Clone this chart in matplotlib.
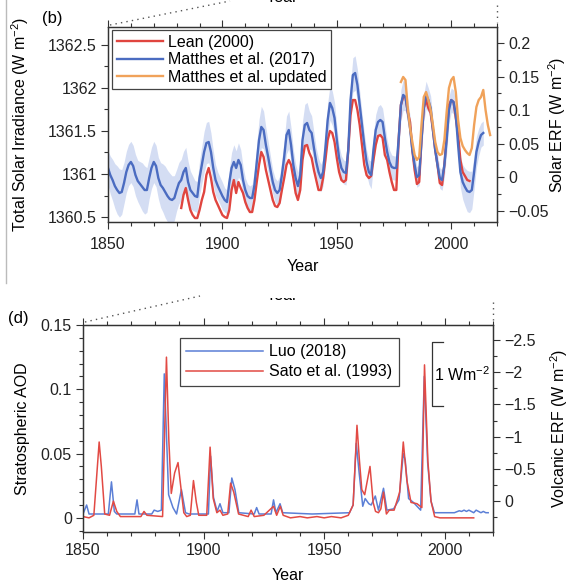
import matplotlib
matplotlib.use("Agg")
import matplotlib.pyplot as plt
from matplotlib.ticker import MultipleLocator
from matplotlib.lines import Line2D
from matplotlib.patches import Rectangle
import numpy as np

plt.rcParams['font.family'] = ['Liberation Sans', 'DejaVu Sans']
plt.rcParams['mathtext.fontset'] = 'custom'
plt.rcParams['mathtext.rm'] = 'Liberation Sans'
plt.rcParams['mathtext.it'] = 'Liberation Sans'
plt.rcParams['mathtext.sf'] = 'Liberation Sans'

# ---------------- panel (b): solar ----------------
matthes_years = list(range(1850, 2015))
matthes_tsi = [
    1361.070, 1360.988, 1360.930, 1360.860, 1360.814, 1360.779, 1360.791, 1360.895, 1361.023, 1361.105,
    1361.140, 1361.093, 1360.988, 1360.919, 1360.884, 1360.849, 1360.814, 1360.814, 1360.953, 1361.070,
    1361.140, 1361.093, 1360.953, 1360.872, 1360.837, 1360.791, 1360.744, 1360.709, 1360.698, 1360.721,
    1360.814, 1360.895, 1360.930, 1361.023, 1361.070, 1360.907, 1360.814, 1360.779, 1360.744, 1360.733,
    1360.953, 1361.105, 1361.256, 1361.360, 1361.372, 1361.256, 1361.070, 1360.930, 1360.860, 1360.802,
    1360.744, 1360.698, 1360.674, 1360.895, 1361.070, 1361.140, 1361.070, 1361.163, 1361.105, 1360.930,
    1360.814, 1360.744, 1360.721, 1360.721, 1360.872, 1361.128, 1361.395, 1361.547, 1361.512, 1361.337,
    1361.198, 1361.047, 1360.907, 1360.814, 1360.779, 1360.814, 1360.988, 1361.198, 1361.453, 1361.512,
    1361.337, 1361.105, 1360.953, 1360.860, 1360.988, 1361.395, 1361.570, 1361.593, 1361.512, 1361.477,
    1361.302, 1361.140, 1361.023, 1360.953, 1361.023, 1361.302, 1361.628, 1361.826, 1361.767, 1361.651,
    1361.395, 1361.186, 1361.070, 1361.023, 1361.012, 1361.279, 1361.860, 1362.151, 1362.174, 1362.035,
    1361.802, 1361.570, 1361.337, 1361.140, 1361.023, 1360.988, 1361.279, 1361.512, 1361.605, 1361.628,
    1361.605, 1361.419, 1361.256, 1361.140, 1361.081, 1361.070, 1361.070, 1361.395, 1361.802, 1361.919,
    1361.895, 1361.721, 1361.535, 1361.279, 1361.105, 1360.965, 1360.988, 1361.395, 1361.767, 1361.919,
    1361.860, 1361.767, 1361.512, 1361.279, 1361.105, 1360.953, 1360.930, 1361.105, 1361.395, 1361.744,
    1361.860, 1361.837, 1361.686, 1361.337, 1361.023, 1360.907, 1360.849, 1360.802, 1360.791, 1360.814,
    1361.023, 1361.256, 1361.372, 1361.453, 1361.477,
]
matthes_unc = [
    0.20, 0.22, 0.24, 0.26, 0.28, 0.28, 0.26, 0.24, 0.24, 0.24,
    0.24, 0.24, 0.24, 0.24, 0.26, 0.28, 0.28, 0.26, 0.24, 0.24,
    0.24, 0.24, 0.24, 0.26, 0.28, 0.30, 0.30, 0.30, 0.28, 0.26,
    0.24, 0.24, 0.24, 0.24, 0.24, 0.24, 0.22, 0.20, 0.18, 0.18,
    0.20, 0.22, 0.24, 0.24, 0.24, 0.22, 0.20, 0.18, 0.16, 0.16,
    0.16, 0.14, 0.14, 0.16, 0.18, 0.20, 0.20, 0.20, 0.18, 0.16,
    0.14, 0.14, 0.14, 0.16, 0.18, 0.22, 0.24, 0.24, 0.22, 0.20,
    0.18, 0.16, 0.14, 0.14, 0.14, 0.16, 0.18, 0.20, 0.22, 0.22,
    0.20, 0.18, 0.16, 0.16, 0.18, 0.22, 0.24, 0.24, 0.22, 0.20,
    0.18, 0.16, 0.16, 0.16, 0.16, 0.18, 0.20, 0.20, 0.20, 0.18,
    0.16, 0.14, 0.14, 0.14, 0.14, 0.16, 0.18, 0.20, 0.20, 0.18,
    0.16, 0.14, 0.14, 0.14, 0.14, 0.16, 0.18, 0.18, 0.18, 0.18,
    0.16, 0.16, 0.14, 0.14, 0.14, 0.14, 0.14, 0.16, 0.18, 0.18,
    0.16, 0.14, 0.14, 0.12, 0.12, 0.12, 0.12, 0.14, 0.16, 0.16,
    0.14, 0.14, 0.12, 0.12, 0.12, 0.12, 0.12, 0.14, 0.16, 0.16,
    0.14, 0.14, 0.14, 0.16, 0.18, 0.20, 0.22, 0.24, 0.24, 0.22,
    0.20, 0.18, 0.16, 0.14, 0.14,
]

lean_years = list(range(1882, 2009))
lean_tsi = [
    1360.605, 1360.756, 1360.837, 1360.698, 1360.581, 1360.523, 1360.488, 1360.488,
    1360.581, 1360.698, 1360.791, 1360.988, 1361.070, 1360.953, 1360.791, 1360.698, 1360.640, 1360.581,
    1360.523, 1360.500, 1360.488, 1360.581, 1360.814, 1360.930, 1360.779, 1360.907, 1360.837, 1360.779,
    1360.674, 1360.605, 1360.558, 1360.558, 1360.698, 1360.907, 1361.105, 1361.256, 1361.198, 1361.047,
    1360.930, 1360.814, 1360.698, 1360.628, 1360.616, 1360.663, 1360.814, 1360.953, 1361.105, 1361.163,
    1361.105, 1360.953, 1360.779, 1360.698, 1360.814, 1361.163, 1361.326, 1361.337, 1361.244, 1361.186,
    1361.047, 1360.930, 1360.814, 1360.814, 1360.953, 1361.163, 1361.395, 1361.500, 1361.477, 1361.372,
    1361.186, 1361.023, 1360.930, 1360.907, 1360.930, 1361.279, 1361.686, 1361.860, 1361.860, 1361.744,
    1361.570, 1361.337, 1361.105, 1360.988, 1360.953, 1360.977, 1361.163, 1361.337, 1361.442, 1361.453,
    1361.419, 1361.221, 1361.163, 1361.023, 1360.907, 1360.814, 1360.814, 1361.395, 1361.802, 1361.895,
    1361.895, 1361.721, 1361.605, 1361.279, 1361.047, 1360.884, 1360.907, 1361.395, 1361.767, 1361.860,
    1361.767, 1361.709, 1361.512, 1361.279, 1361.105, 1360.895, 1360.872, 1361.105, 1361.453, 1361.802,
    1361.860, 1361.837, 1361.651, 1361.453, 1361.163, 1361.023, 1360.977, 1360.930, 1360.919,
]

updated_years = list(range(1978, 2018))
updated_tsi = [
    1362.070, 1362.128, 1362.093, 1361.767, 1361.535, 1361.372, 1361.221, 1361.163, 1361.198, 1361.570,
    1361.895, 1361.953, 1361.860, 1361.744, 1361.570, 1361.372, 1361.256, 1361.221, 1361.233, 1361.395,
    1361.721, 1362.000, 1362.093, 1362.128, 1361.953, 1361.628, 1361.419, 1361.326, 1361.279, 1361.244,
    1361.221, 1361.302, 1361.570, 1361.779, 1361.860, 1361.895, 1361.977, 1361.744, 1361.570, 1361.453,
]

# ---------------- panel (d): volcanic ----------------
luo_years = [1850.0, 1851.5, 1852.5, 1860.5, 1861.8, 1863.0, 1864.0, 1871.5, 1872.4, 1873.2,
             1878.5, 1879.5, 1881.0, 1882.5, 1883.7, 1885.5, 1887.3, 1888.8, 1890.8, 1892.5,
             1894.0, 1902.0, 1902.9, 1904.1, 1905.6, 1906.8, 1908.0, 1910.5, 1911.7, 1913.0,
             1914.6, 1921.0, 1922.0, 1923.0, 1928.0, 1929.0, 1930.0, 1931.7, 1932.8, 1945.0,
             1960.5, 1962.0, 1963.3, 1964.5, 1966.0, 1967.0, 1968.5, 1969.5, 1971.2, 1972.5,
             1974.6, 1976.0, 1978.8, 1981.0, 1982.8, 1983.6, 1985.0, 1987.0, 1990.0, 1991.5,
             1992.9, 1994.3, 1995.7, 2000.0, 2004.0, 2006.0, 2007.0, 2008.0, 2009.0, 2010.0,
             2011.0, 2012.0, 2013.0, 2014.0, 2015.0, 2016.0, 2017.0, 2018.0]
luo_aod = [0.003, 0.010, 0.003, 0.003, 0.028, 0.005, 0.003, 0.003, 0.014, 0.003,
           0.003, 0.006, 0.005, 0.006, 0.112, 0.018, 0.008, 0.003, 0.022, 0.004,
           0.003, 0.003, 0.048, 0.016, 0.005, 0.011, 0.004, 0.004, 0.031, 0.022,
           0.004, 0.003, 0.008, 0.003, 0.003, 0.014, 0.004, 0.011, 0.004, 0.003,
           0.004, 0.010, 0.058, 0.035, 0.009, 0.015, 0.011, 0.010, 0.017, 0.006,
           0.023, 0.006, 0.007, 0.014, 0.050, 0.045, 0.015, 0.012, 0.006, 0.110,
           0.043, 0.013, 0.004, 0.004, 0.004, 0.0055, 0.005, 0.006, 0.005, 0.006,
           0.005, 0.004, 0.006, 0.005, 0.004, 0.005, 0.004, 0.004]

sato_years = [1850.0, 1852.5, 1854.5, 1856.7, 1857.6, 1859.0, 1861.0, 1862.6, 1864.0, 1865.5,
              1874.0, 1875.3, 1876.5, 1883.0, 1884.6, 1885.6, 1886.6, 1888.0, 1889.4, 1890.5,
              1891.8, 1893.0, 1894.5, 1895.8, 1897.0, 1898.0, 1901.3, 1902.7, 1904.0, 1905.5,
              1906.8, 1908.0, 1910.0, 1911.2, 1912.5, 1914.5, 1918.5, 1919.7, 1921.0, 1925.0,
              1929.0, 1930.3, 1931.8, 1933.0, 1936.0, 1940.0, 1943.0, 1947.0, 1950.0, 1953.0,
              1957.0, 1960.0, 1962.0, 1963.6, 1964.6, 1965.6, 1966.8, 1969.0, 1970.3, 1971.3,
              1972.5, 1973.5, 1974.6, 1975.8, 1977.0, 1979.0, 1981.3, 1982.8, 1984.3, 1986.0,
              1988.5, 1990.5, 1991.6, 1993.0, 1994.3, 1995.8, 1998.0, 2012.0]
sato_aod = [0.001, 0.000, 0.002, 0.059, 0.040, 0.003, 0.002, 0.013, 0.005, 0.001,
            0.001, 0.005, 0.002, 0.001, 0.125, 0.060, 0.019, 0.035, 0.043, 0.025,
            0.004, 0.001, 0.002, 0.029, 0.012, 0.002, 0.002, 0.055, 0.015, 0.004,
            0.006, 0.002, 0.003, 0.027, 0.020, 0.003, 0.001, 0.006, 0.001, 0.002,
            0.009, 0.002, 0.009, 0.002, 0.000, 0.001, 0.000, 0.001, 0.000, 0.001,
            0.000, 0.002, 0.010, 0.072, 0.045, 0.022, 0.018, 0.040, 0.012, 0.005,
            0.004, 0.007, 0.020, 0.003, 0.006, 0.006, 0.020, 0.059, 0.029, 0.012,
            0.011, 0.008, 0.119, 0.044, 0.013, 0.001, 0.000, 0.000]

RED = '#e0453f'
BLUE = '#4b6cc1'
ORANGE = '#f0a25a'
BAND = '#c6d2f0'
SPINE = '#333333'

W, H = 571, 584
fig = plt.figure(figsize=(W / 100, H / 100), dpi=100)

FS = 11.5


def style_axes(ax, xpad=3):
    for s in ax.spines.values():
        s.set_color(SPINE)
        s.set_linewidth(0.9)
    ax.tick_params(which='both', direction='out', colors=SPINE, labelcolor='#222222',
                   labelsize=FS, top=True, width=0.8)
    ax.tick_params(which='major', length=5, pad=3)
    ax.tick_params(which='minor', length=3)
    ax.tick_params(axis='x', which='major', pad=xpad)


# ---- top panel ----
ax1 = fig.add_axes([108 / W, 1 - 222 / H, (497 - 108) / W, (222 - 27) / H])
ax1.fill_between(matthes_years,
                 np.array(matthes_tsi) - np.array(matthes_unc),
                 np.array(matthes_tsi) + np.array(matthes_unc),
                 color=BAND, alpha=0.75, lw=0)
ax1.plot(lean_years, lean_tsi, color=RED, lw=1.7, label='Lean (2000)')
ax1.plot(matthes_years, matthes_tsi, color=BLUE, lw=1.7, label='Matthes et al. (2017)')
ax1.plot(updated_years, updated_tsi, color=ORANGE, lw=1.7, label='Matthes et al. updated')
ax1.set_xlim(1850, 2020)
ax1.set_ylim(1360.442, 1362.709)
ax1.xaxis.set_major_locator(MultipleLocator(50))
ax1.xaxis.set_minor_locator(MultipleLocator(10))
ax1.set_yticks([1360.5, 1361, 1361.5, 1362, 1362.5])
ax1.set_yticklabels(['1360.5', '1361', '1361.5', '1362', '1362.5'])
ax1.yaxis.set_minor_locator(MultipleLocator(0.25))
style_axes(ax1, xpad=5.5)
ax1.set_xlabel('Year', fontsize=FS, labelpad=5)
ax1.set_ylabel('Total Solar Irradiance (W m$^{-2}$)', fontsize=FS, labelpad=12.5)
leg1 = ax1.legend(loc='upper left', bbox_to_anchor=(112 / W, 1 - 30 / H),
                  bbox_transform=fig.transFigure, borderaxespad=0, fontsize=FS,
                  handlelength=2.9, handletextpad=0.3, labelspacing=0.15,
                  borderpad=0.3, fancybox=False, framealpha=1, edgecolor='#444444')
leg1.get_frame().set_linewidth(0.9)

ax1r = ax1.twinx()
ax1r.set_ylim(-0.067, 0.224)
ax1r.set_yticks([-0.05, 0, 0.05, 0.1, 0.15, 0.2])
ax1r.set_yticklabels(['\u22120.05', '0', '0.05', '0.1', '0.15', '0.2'])
ax1r.yaxis.set_minor_locator(MultipleLocator(0.025))
style_axes(ax1r, xpad=5.5)
ax1r.set_ylabel('Solar ERF (W m$^{-2}$)', fontsize=FS, labelpad=-1.5)

# ---- bottom panel ----
ax2 = fig.add_axes([83 / W, 1 - 532 / H, (493 - 83) / W, (532 - 325) / H])
ax2.plot(luo_years, luo_aod, color='#5b7fd6', lw=1.1, label='Luo (2018)')
ax2.plot(sato_years, sato_aod, color='#e24a44', lw=1.1, label='Sato et al. (1993)')
ax2.set_xlim(1850, 2020)
ax2.set_ylim(-0.011, 0.15)
ax2.xaxis.set_major_locator(MultipleLocator(50))
ax2.xaxis.set_minor_locator(MultipleLocator(10))
ax2.set_yticks([0, 0.05, 0.1, 0.15])
ax2.set_yticklabels(['0', '0.05', '0.1', '0.15'])
ax2.yaxis.set_minor_locator(MultipleLocator(0.01))
style_axes(ax2)
ax2.set_xlabel('Year', fontsize=FS, labelpad=7)
ax2.set_ylabel('Stratospheric AOD', fontsize=FS, labelpad=8)
leg2 = ax2.legend(loc='upper left', bbox_to_anchor=(180 / W, 1 - 338 / H),
                  bbox_transform=fig.transFigure, borderaxespad=0, fontsize=FS,
                  handlelength=4.8, handletextpad=0.4, labelspacing=0.3,
                  borderpad=0.4, fancybox=False, framealpha=1, edgecolor='#444444')
leg2.get_frame().set_linewidth(0.9)

ax2r = ax2.twinx()
ax2r.set_ylim(0.48, -2.733)
ax2r.set_yticks([0, -0.5, -1, -1.5, -2, -2.5])
ax2r.set_yticklabels(['0', '\u22120.5', '\u22121', '\u22121.5', '\u22122', '\u22122.5'])
ax2r.yaxis.set_minor_locator(MultipleLocator(0.25))
style_axes(ax2r)
ax2r.set_ylabel('Volcanic ERF (W m$^{-2}$)', fontsize=FS, labelpad=9)

# 1 W m-2 scale bracket
ax2r.plot([1999.4, 1994.8, 1994.8, 1999.4], [-2.47, -2.47, -1.47, -1.47],
          color='#333333', lw=0.9)
ax2r.text(1995.6, -1.97, '1 Wm$^{-2}$', fontsize=FS, va='center', ha='left')

# panel labels
fig.text(42 / W, 1 - 18 / H, '(b)', fontsize=FS + 0.5, va='center', ha='left')
fig.text(8 / W, 1 - 318 / H, '(d)', fontsize=FS + 0.5, va='center', ha='left')

# remnants of the panel above each panel (cropped axis of a neighbouring figure)
dot_kw = dict(transform=fig.transFigure, color='#555555', lw=1.0,
              linestyle=(0, (1, 3)))
fig.lines.append(Line2D([110 / W, 230 / W], [1 - 25 / H, 1 - 1 / H], **dot_kw))
fig.lines.append(Line2D([497 / W, 497 / W], [1 - 5 / H, 1 - 22 / H], **dot_kw))
fig.lines.append(Line2D([85 / W, 200 / W], [1 - 322 / H, 1 - 296 / H], **dot_kw))
fig.lines.append(Line2D([493 / W, 493 / W], [1 - 302 / H, 1 - 320 / H], **dot_kw))
fig.text(282 / W, 1 + 3 / H, 'Year', fontsize=FS, ha='center', va='center')
fig.text(282 / W, 1 - 296 / H, 'Year', fontsize=FS, ha='center', va='center')
fig.patches.append(Rectangle((250 / W, 1 - 298 / H), 70 / W, 20 / H,
                             transform=fig.transFigure, facecolor='white',
                             edgecolor='none', zorder=5))
# thin frame at left of top panel
fig.lines.append(Line2D([6 / W, 6 / W], [1.0, 1 - 283 / H], transform=fig.transFigure,
                        color='#bbbbbb', lw=1.0))

fig.savefig('out.png', dpi=100)
